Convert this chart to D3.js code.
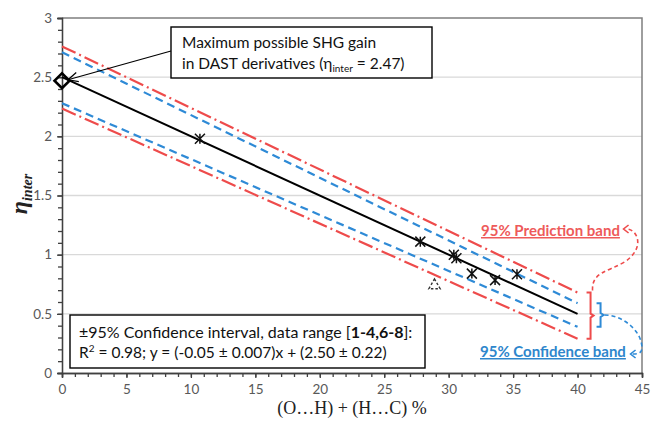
<!DOCTYPE html>
<html>
<head>
<meta charset="utf-8">
<script src="https://cdn.jsdelivr.net/npm/d3@7"></script>
<style>
	body { margin: 0; background: #fff; }
	text { font-family: Lato, "Open Sans", sans-serif; }
</style>
</head>
<body>
<script>
// data
var pointX = [10.7, 27.8, 30.4, 30.6, 31.8, 33.6, 35.3];
var pointY = [1.98, 1.11, 1.00, 0.97, 0.84, 0.785, 0.835];
var outlierX = [28.9];
var outlierY = [0.74];
var maxX = [0];
var maxY = [2.47];
var fitX = [0, 40];
var fitY = [2.50, 0.50];
var confUpper = [2.71, 0.59];
var confLower = [2.28, 0.39];
var predUpper = [2.76, 0.68];
var predLower = [2.235, 0.29];
var xTicks = [0, 5, 10, 15, 20, 25, 30, 35, 40, 45];
var yTicks = [0, 0.5, 1, 1.5, 2, 2.5, 3];

var W = 651, H = 423;
var pLeft = 62, pRight = 642, pTop = 18, pBottom = 373;

var svg = d3.select("body")
	.append("svg")
	.attr("width", W)
	.attr("height", H);

var x = d3.scaleLinear().domain([0, 45]).range([pLeft, pRight]);
var y = d3.scaleLinear().domain([0, 3]).range([pBottom, pTop]);

// gridlines
svg.selectAll(".grid")
	.data(yTicks.filter(d => d > 0 && d < 3))
	.join("line")
	.attr("x1", pLeft).attr("x2", pRight)
	.attr("y1", d => y(d)).attr("y2", d => y(d))
	.attr("stroke", "#d9d9d9")
	.attr("stroke-width", 1.3);

// plot border (top / right)
svg.append("path")
	.attr("d", "M" + pLeft + "," + pTop + "H" + pRight + "V" + pBottom)
	.attr("fill", "none")
	.attr("stroke", "#7f7f7f")
	.attr("stroke-width", 1.5);

// axes
svg.append("g")
	.attr("transform", "translate(0," + pBottom + ")")
	.call(d3.axisBottom(x).tickValues(xTicks).tickSize(5).tickPadding(6).tickFormat(d3.format("~g")));
svg.append("g")
	.attr("transform", "translate(0," + pBottom + ")")
	.call(d3.axisBottom(x).tickValues(d3.range(0, 46, 1)).tickSize(4).tickFormat(""));
svg.append("g")
	.attr("transform", "translate(" + pLeft + ",0)")
	.call(d3.axisLeft(y).tickValues(yTicks).tickSize(5).tickPadding(5).tickFormat(d3.format("~g")));
svg.append("g")
	.attr("transform", "translate(" + pLeft + ",0)")
	.call(d3.axisLeft(y).tickValues(d3.range(0, 31, 1).map(d => d / 10)).tickSize(4).tickFormat(""));

svg.selectAll(".domain, .tick line")
	.attr("stroke", "#404040")
	.attr("stroke-width", 1.3);
svg.selectAll(".tick text")
	.attr("fill", "#595959")
	.style("font-size", "13.5px")
	.style("font-family", "Lato, sans-serif");

// axis titles
svg.append("text")
	.attr("x", 352).attr("y", 414)
	.attr("text-anchor", "middle")
	.style("font-family", "'Liberation Serif', serif")
	.style("font-size", "18px")
	.attr("fill", "#222")
	.text("(O…H) + (H…C) %");

var yl = svg.append("text")
	.attr("transform", "translate(27,194) rotate(-90)")
	.attr("text-anchor", "middle")
	.style("font-family", "'Liberation Serif', serif")
	.style("font-weight", "bold")
	.style("font-style", "italic")
	.attr("fill", "#222");
yl.append("tspan").style("font-size", "24px").text("η");
yl.append("tspan").style("font-size", "14px").attr("dy", 5).text("inter");

// bands
var band = d3.line().x((d, i) => x(fitX[i])).y(d => y(d));
[predUpper, predLower].forEach(function(b){
	svg.append("path")
		.attr("d", band(b))
		.attr("fill", "none")
		.attr("stroke", "#ee4b4b")
		.attr("stroke-width", 2.2)
		.attr("stroke-dasharray", "15,4,2,4");
});
[confUpper, confLower].forEach(function(b){
	svg.append("path")
		.attr("d", band(b))
		.attr("fill", "none")
		.attr("stroke", "#2e8ad6")
		.attr("stroke-width", 2.2)
		.attr("stroke-dasharray", "8,5");
});

// fit line
svg.append("path")
	.attr("d", band(fitY))
	.attr("fill", "none")
	.attr("stroke", "#000")
	.attr("stroke-width", 2);

// star marker (x with vertical bar)
var star = {
	draw: function(ctx, size){
		var r = Math.sqrt(size) / 2;
		ctx.moveTo(-r, -r); ctx.lineTo(r, r);
		ctx.moveTo(-r, r); ctx.lineTo(r, -r);
		ctx.moveTo(0, -r); ctx.lineTo(0, r);
	}
};
svg.selectAll(".pt")
	.data(pointX)
	.join("path")
	.attr("transform", (d, i) => "translate(" + x(d) + "," + y(pointY[i]) + ")")
	.attr("d", d3.symbol().type(star).size(100))
	.attr("fill", "none")
	.attr("stroke", "#111")
	.attr("stroke-width", 1.5);

svg.selectAll(".out")
	.data(outlierX)
	.join("path")
	.attr("transform", (d, i) => "translate(" + x(d) + "," + y(outlierY[i]) + ")")
	.attr("d", d3.symbol().type(d3.symbolTriangle).size(55))
	.attr("fill", "none")
	.attr("stroke", "#333")
	.attr("stroke-width", 1.4)
	.attr("stroke-dasharray", "2.5,2");

svg.selectAll(".max")
	.data(maxX)
	.join("path")
	.attr("transform", (d, i) => "translate(" + x(d) + "," + y(maxY[i]) + ") rotate(45)")
	.attr("d", d3.symbol().type(d3.symbolSquare).size(112))
	.attr("fill", "none")
	.attr("stroke", "#000")
	.attr("stroke-width", 2.6);

// annotation box top
svg.append("rect")
	.attr("x", 171).attr("y", 27).attr("width", 261).attr("height", 51)
	.attr("fill", "#fff").attr("stroke", "#000").attr("stroke-width", 1.4);
svg.append("text").attr("x", 182).attr("y", 48)
	.style("font-size", "15.5px").attr("fill", "#111")
	.text("Maximum possible SHG gain");
var t2 = svg.append("text").attr("x", 182).attr("y", 69)
	.style("font-size", "15.5px").attr("fill", "#111");
t2.append("tspan").text("in DAST derivatives (η");
t2.append("tspan").attr("dy", 3).style("font-size", "10px").text("inter");
t2.append("tspan").attr("dy", -3).text(" = 2.47)");

// arrow to diamond
var tip = [x(maxX[0]) + 6, y(maxY[0]) - 1];
var tail = [171, 51];
svg.append("line")
	.attr("x1", tail[0]).attr("y1", tail[1]).attr("x2", tip[0]).attr("y2", tip[1])
	.attr("stroke", "#000").attr("stroke-width", 1.2);
var ang = Math.atan2(tail[1] - tip[1], tail[0] - tip[0]);
var ah = d3.path();
ah.moveTo(tip[0] + 11 * Math.cos(ang - 0.45), tip[1] + 11 * Math.sin(ang - 0.45));
ah.lineTo(tip[0], tip[1]);
ah.lineTo(tip[0] + 11 * Math.cos(ang + 0.45), tip[1] + 11 * Math.sin(ang + 0.45));
svg.append("path").attr("d", ah.toString())
	.attr("fill", "none").attr("stroke", "#000").attr("stroke-width", 1.2);

// stats box bottom
svg.append("rect")
	.attr("x", 70).attr("y", 315).attr("width", 355).attr("height", 53)
	.attr("fill", "#fff").attr("stroke", "#000").attr("stroke-width", 1.4);
var s1 = svg.append("text").attr("x", 79).attr("y", 338)
	.style("font-size", "16px").attr("fill", "#111");
s1.append("tspan").text("±95% Confidence interval, data range [");
s1.append("tspan").style("font-weight", "bold").text("1-4,6-8");
s1.append("tspan").text("]:");
var s2 = svg.append("text").attr("x", 79).attr("y", 358)
	.style("font-size", "15.5px").attr("fill", "#111");
s2.append("tspan").text("R");
s2.append("tspan").attr("dy", -6).style("font-size", "10px").text("2");
s2.append("tspan").attr("dy", 6).text(" = 0.98; y = (-0.05 ± 0.007)x + (2.50 ± 0.22)");

// brackets at x = 40
var bx = x(40);
function bracket(x0, yTop, yBot, col){
	var mid = (yTop + yBot) / 2;
	var p = d3.path();
	p.moveTo(x0 - 4, yTop); p.lineTo(x0, yTop); p.lineTo(x0, mid - 2);
	p.lineTo(x0 + 3, mid); p.lineTo(x0, mid + 2); p.lineTo(x0, yBot); p.lineTo(x0 - 4, yBot);
	svg.append("path").attr("d", p.toString())
		.attr("fill", "none").attr("stroke", col).attr("stroke-width", 2);
}
bracket(bx + 13, y(predUpper[1]), y(predLower[1]), "#ee4b4b");
bracket(bx + 23, y(confUpper[1]), y(confLower[1]), "#2e8ad6");

// band labels
svg.append("text").attr("x", 481).attr("y", 236)
	.style("font-size", "15px").style("font-weight", "bold")
	.style("text-decoration", "underline")
	.attr("fill", "#ee5a5a")
	.text("95% Prediction band");
svg.append("text").attr("x", 480).attr("y", 357)
	.style("font-size", "15px").style("font-weight", "bold")
	.style("text-decoration", "underline")
	.attr("fill", "#2e86cc")
	.text("95% Confidence band");

// curved dashed pointers
function pointer(d, col, ax, ay){
	svg.append("path").attr("d", d)
		.attr("fill", "none").attr("stroke", col).attr("stroke-width", 1.6)
		.attr("stroke-dasharray", "4,3");
	svg.append("path").attr("d", "M" + (ax + 5) + "," + (ay - 4) + "L" + ax + "," + ay + "L" + (ax + 5) + "," + (ay + 4))
		.attr("fill", "none").attr("stroke", col).attr("stroke-width", 1.6);
}
pointer("M" + (bx + 15) + "," + (y(predUpper[1]) - 2) + "C" + (bx + 14) + ",272 " + (bx + 30) + ",272 " + (bx + 47) + ",262" +
	"C" + (bx + 68) + ",248 " + (bx + 60) + ",230 " + (bx + 50) + ",229", "#ee4b4b", bx + 46, 229);
var cm = (y(confUpper[1]) + y(confLower[1])) / 2;
pointer("M" + (bx + 27) + "," + cm + "C" + (bx + 45) + "," + cm + " " + (bx + 62) + ",330 " + (bx + 64) + ",344" +
	"C" + (bx + 66) + ",354 " + (bx + 60) + ",354 " + (bx + 55) + ",354", "#2e8ad6", bx + 53, 354);
</script>
</body>
</html>
